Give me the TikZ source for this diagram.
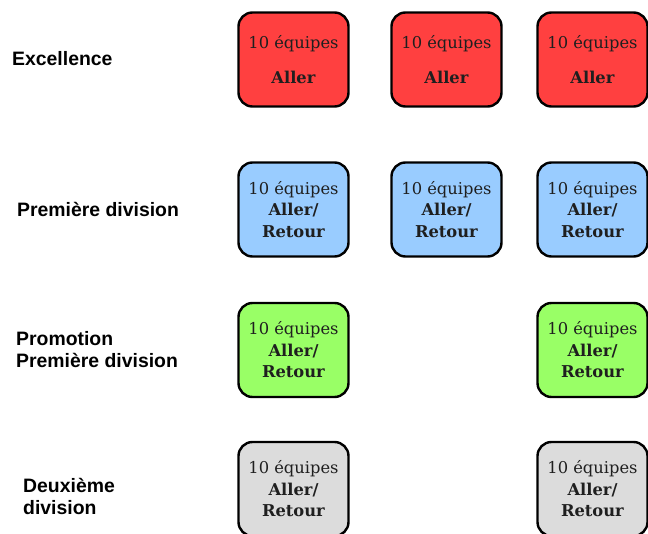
\documentclass[tikz,border=0pt]{standalone}
\usepackage{fontspec}
\setmainfont{DejaVu Serif}
\newfontfamily\labelfont{Liberation Sans}
\definecolor{cred}{HTML}{FF4040}
\definecolor{cblue}{HTML}{99CCFF}
\definecolor{cgreen}{HTML}{99FF66}
\definecolor{cgrey}{HTML}{DCDCDC}
\begin{document}
\begin{tikzpicture}[x=1pt,y=-1pt,
  team/.style={draw=black, line width=2.4pt, rounded corners=14pt,
    minimum width=110pt, minimum height=94pt, inner sep=0pt, align=center,
    font=\fontsize{16.3}{21.5}\selectfont, text=black!88},
  lbl/.style={anchor=west, font=\labelfont\bfseries\fontsize{19.4}{22}\selectfont, align=left, inner sep=0pt}]
\useasboundingbox[fill=white] (0,0) rectangle (648,534);
% row labels
\node[lbl, anchor=base west] (l1) at (12,66) {Excellence};
\node[lbl, anchor=base west] (l2) at (17,217) {Première division};
\node[lbl] (l3) at (16,350) {Promotion\\Première division};
\node[lbl] (l4) at (23,496) {Deuxième\\division};
% row 1
\foreach \n/\x in {a/293.5,b/446.5,c/592.5}{
  \node[team, fill=cred] (r1\n) at (\x,59.5) {10 équipes\\[14pt]\textbf{Aller}};
}
% row 2
\foreach \n/\x in {a/293.5,b/446.5,c/592.5}{
  \node[team, fill=cblue] (r2\n) at (\x,209.5) {10 équipes\\\textbf{Aller/}\\\textbf{Retour}};
}
% row 3
\foreach \n/\x in {a/293.5,c/592.5}{
  \node[team, fill=cgreen] (r3\n) at (\x,350) {10 équipes\\\textbf{Aller/}\\\textbf{Retour}};
}
% row 4
\foreach \n/\x in {a/293.5,c/592.5}{
  \node[team, fill=cgrey] (r4\n) at (\x,489) {10 équipes\\\textbf{Aller/}\\\textbf{Retour}};
}
\end{tikzpicture}
\end{document}
